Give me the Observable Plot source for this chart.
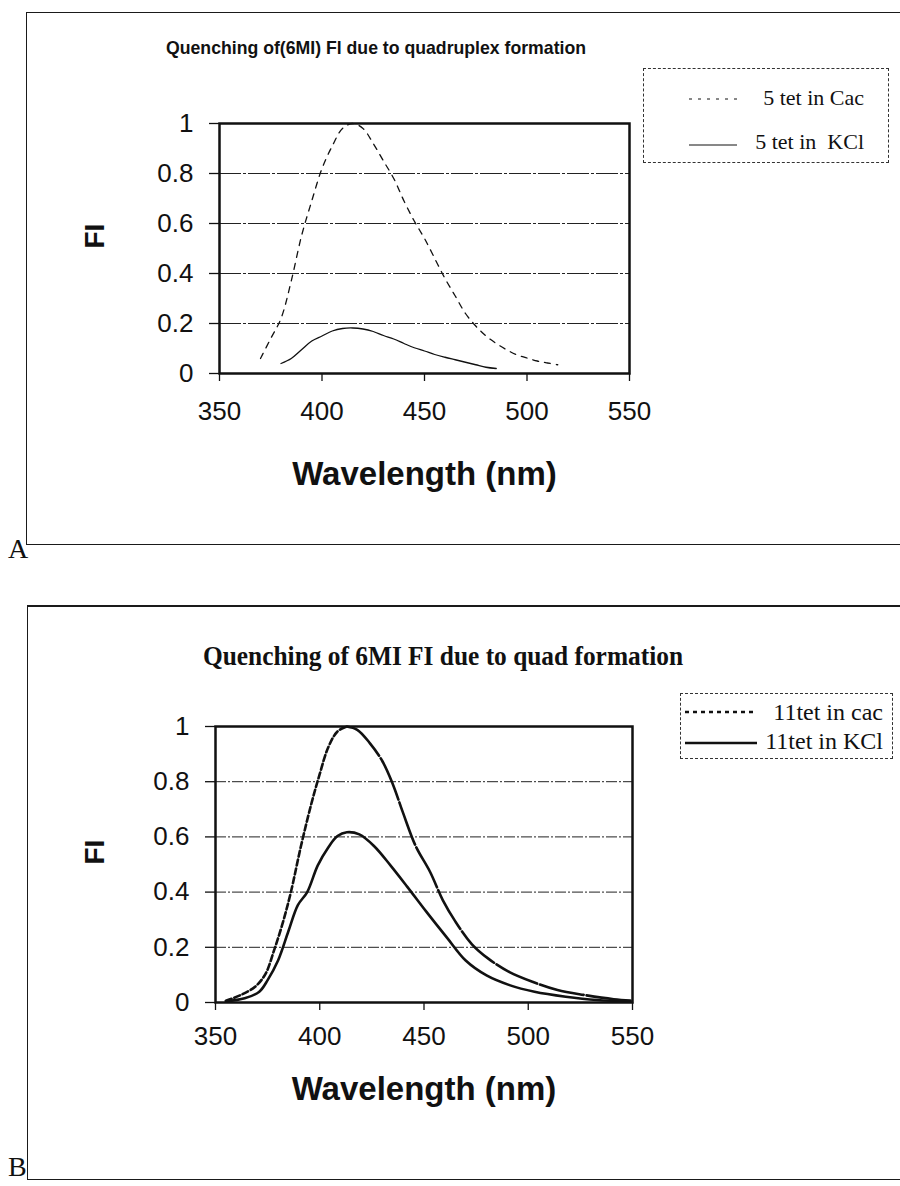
<!DOCTYPE html>
<html><head><meta charset="utf-8">
<script src="https://cdn.jsdelivr.net/npm/d3@7"></script>
<script src="https://cdn.jsdelivr.net/npm/@observablehq/plot@0.6"></script>
<style>
body{margin:0;background:#fff;}
#page{position:relative;width:900px;height:1186px;overflow:hidden;background:#fff;}
.frame{position:absolute;border:1.6px solid #1a1a1a;border-right:none;box-sizing:border-box;}
.legend{position:absolute;border:1px dashed #333;box-sizing:border-box;background:#fff;font-family:"Liberation Serif","Times New Roman",serif;color:#111;}
.legend .row{position:absolute;left:0;right:0;height:30px;}
.legend .row svg{position:absolute;top:0;}
.legend .row span{position:absolute;white-space:pre;line-height:30px;}
.panel-letter{position:absolute;font-family:"Liberation Serif","Times New Roman",serif;font-size:28px;color:#111;}
</style></head><body><div id="page"></div>
<script>
// ---------- data ----------
const xTicks = [350, 400, 450, 500, 550];
const yTicks = [0, 0.2, 0.4, 0.6, 0.8, 1];
const gridVals = [0.2, 0.4, 0.6, 0.8];
const xLabel = "Wavelength (nm)";
const yLabel = "FI";

const titleA = "Quenching of(6MI) Fl due to quadruplex formation";
const seriesA = ["5 tet in Cac", "5 tet in  KCl"];
const wlA_cac = [370,375,380,385,390,395,400,405,410,415,420,425,430,435,440,445,450,455,460,465,470,475,480,485,490,495,500,505,510,515];
const fiA_cac = [0.06,0.14,0.22,0.37,0.55,0.69,0.82,0.91,0.98,1.0,0.98,0.92,0.85,0.78,0.69,0.61,0.54,0.46,0.38,0.31,0.24,0.19,0.15,0.12,0.095,0.075,0.062,0.05,0.042,0.035];
const wlA_kcl = [380,385,390,395,400,405,410,415,420,425,430,435,440,445,450,455,460,465,470,475,480,485];
const fiA_kcl = [0.04,0.06,0.095,0.13,0.15,0.17,0.18,0.182,0.178,0.168,0.152,0.138,0.12,0.103,0.09,0.076,0.065,0.055,0.045,0.035,0.025,0.02];

const titleB = "Quenching of 6MI FI due to quad formation";
const seriesB = ["11tet in cac", "11tet in KCl"];
const wlB_cac = [355,362,369,374,378,382,386,391,396,400,404,408.5,413,418,424,430,435,440,446,453,459,465,473,481,491,502,514,527,541,549];
const fiB_cac = [0.006,0.027,0.057,0.104,0.187,0.282,0.395,0.567,0.721,0.828,0.923,0.982,1.0,0.988,0.94,0.875,0.792,0.686,0.567,0.472,0.371,0.294,0.211,0.158,0.11,0.075,0.045,0.027,0.012,0.007];
const wlB_kcl = [355,364,371,375,380,385,389.5,394,399,404,408.5,413,419,426,434,442,451,461,470,480,491,503,518,533,549];
const fiB_kcl = [0.004,0.015,0.039,0.081,0.152,0.259,0.353,0.4,0.496,0.561,0.603,0.617,0.609,0.567,0.496,0.419,0.33,0.235,0.152,0.098,0.063,0.039,0.021,0.009,0.004];

// ---------- build ----------
const page = document.getElementById("page");
const zip = (w, f) => w.map((x, i) => ({wl: x, fi: f[i]}));

function addDiv(html, cls, style) {
  const d = document.createElement("div");
  if (cls) d.className = cls;
  Object.assign(d.style, style);
  d.innerHTML = html;
  page.appendChild(d);
  return d;
}

function addTitle(text, opts) {
  const ns = "http://www.w3.org/2000/svg";
  const svg = document.createElementNS(ns, "svg");
  svg.setAttribute("width", 900); svg.setAttribute("height", 60);
  svg.style.position = "absolute"; svg.style.left = "0px"; svg.style.top = opts.top + "px";
  const t = document.createElementNS(ns, "text");
  t.setAttribute("x", opts.x0); t.setAttribute("y", opts.baseline);
  t.setAttribute("textLength", opts.len); t.setAttribute("lengthAdjust", "spacingAndGlyphs");
  t.setAttribute("font-family", opts.font); t.setAttribute("font-size", opts.size);
  t.setAttribute("font-weight", "bold"); t.setAttribute("fill", "#111");
  t.textContent = text;
  svg.appendChild(t);
  page.appendChild(svg);
}

function addLegend(labels, styles, box) {
  const lg = addDiv("", "legend", {left: box.x + "px", top: box.y + "px", width: box.w + "px", height: box.h + "px", fontSize: box.fs + "px"});
  labels.forEach((lab, i) => {
    const row = document.createElement("div");
    row.className = "row";
    row.style.top = box.rows[i] + "px";
    const s = styles[i];
    row.innerHTML = `<svg width="${box.w}" height="30"><line x1="${box.l0}" x2="${box.l1}" y1="${s.ly}" y2="${s.ly}" stroke="#111" stroke-width="${s.w}" stroke-dasharray="${s.dash}"/></svg><span style="right:${box.pr}px">${lab}</span>`;
    lg.appendChild(row);
  });
}

function makePlot(cfg) {
  const p = Plot.plot({
    width: cfg.width, height: cfg.height,
    marginLeft: cfg.ml, marginRight: cfg.mr, marginTop: cfg.mt, marginBottom: cfg.mb,
    style: {fontFamily: '"Liberation Sans", Arial, sans-serif', background: "transparent", color: "#111", overflow: "visible"},
    x: {domain: [350, 550]},
    y: {domain: [0, 1]},
    marks: [
      Plot.ruleY(gridVals, {stroke: "#222", strokeWidth: 1, strokeDasharray: cfg.gridDash}),
      ...cfg.lines,
      Plot.frame({stroke: "#111", strokeWidth: 2.5}),
      Plot.axisX({ticks: xTicks, tickSize: 8, tickPadding: cfg.xpad, fontSize: 26, label: null, tickFormat: d => String(d), strokeWidth: 1.3}),
      Plot.axisY({ticks: yTicks, tickSize: 10, tickPadding: cfg.ypad, fontSize: 26, label: null, tickFormat: d => String(d), strokeWidth: 1.3}),
      Plot.text([xLabel], {text: d => d, frameAnchor: "bottom", dy: cfg.xlabDy, fontSize: 33, fontWeight: "bold"}),
      Plot.text([yLabel], {text: d => d, frameAnchor: "left", dx: cfg.ylabDx, rotate: -90, fontSize: 28, fontWeight: "bold"})
    ]
  });
  p.style.position = "absolute";
  p.style.left = "0px";
  p.style.top = cfg.top + "px";
  page.appendChild(p);
}

// ----- Panel A -----
addDiv("", "frame", {left: "26px", top: "12px", width: "880px", height: "533px"});
addTitle(titleA, {top: 20, x0: 166, baseline: 34, len: 420, size: 19, font: '"Liberation Sans Narrow","Arial Narrow","Liberation Sans",sans-serif'});
const dataAc = zip(wlA_cac, fiA_cac), dataAk = zip(wlA_kcl, fiA_kcl);
makePlot({
  top: 100, width: 720, height: 420, ml: 219, mr: 91, mt: 23, mb: 147,
  xpad: 20, ypad: 16, xlabDy: 111, ylabDx: -124, gridDash: "22,2,3,2",
  lines: [
    Plot.line(dataAc, {x: "wl", y: "fi", curve: "catmull-rom", stroke: "#111", strokeWidth: 1.3, strokeDasharray: "6,6"}),
    Plot.line(dataAk, {x: "wl", y: "fi", curve: "catmull-rom", stroke: "#111", strokeWidth: 1.3})
  ]
});
addLegend(seriesA, [{dash: "3,6", w: 1, ly: 16}, {dash: "none", w: 1, ly: 18}],
  {x: 643, y: 68, w: 246, h: 95, fs: 22, pr: 24, l0: 45, l1: 93, rows: [14, 58]});
addDiv("A", "panel-letter", {left: "8px", top: "533px"});

// ----- Panel B -----
addDiv("", "frame", {left: "27px", top: "605px", width: "880px", height: "575px", borderTopWidth: "2.5px"});
addTitle(titleB, {top: 630, x0: 203, baseline: 35, len: 480, size: 28, font: '"Liberation Serif","Times New Roman",serif'});
const dataBc = zip(wlB_cac, fiB_cac), dataBk = zip(wlB_kcl, fiB_kcl);
makePlot({
  top: 700, width: 720, height: 440, ml: 215, mr: 88, mt: 26, mb: 138,
  xpad: 16, ypad: 16, xlabDy: 97, ylabDx: -120, gridDash: "11,2,2,2",
  lines: [
    Plot.line(dataBk, {x: "wl", y: "fi", curve: "catmull-rom", stroke: "#111", strokeWidth: 2.6}),
    Plot.line(dataBc, {x: "wl", y: "fi", filter: d => d.wl <= 413, curve: "catmull-rom", stroke: "#111", strokeWidth: 2.6, strokeDasharray: "6,3"}),
    Plot.line(dataBc, {x: "wl", y: "fi", filter: d => d.wl >= 413, curve: "catmull-rom", stroke: "#111", strokeWidth: 2.6, strokeDasharray: "45,3"})
  ]
});
addLegend(seriesB, [{dash: "4,4", w: 2.4, ly: 15}, {dash: "none", w: 2.4, ly: 17}],
  {x: 680, y: 693, w: 213, h: 66, fs: 24, pr: 9, l0: 4, l1: 76, rows: [3, 32]});
addDiv("B", "panel-letter", {left: "8px", top: "1151px"});
</script></body></html>
